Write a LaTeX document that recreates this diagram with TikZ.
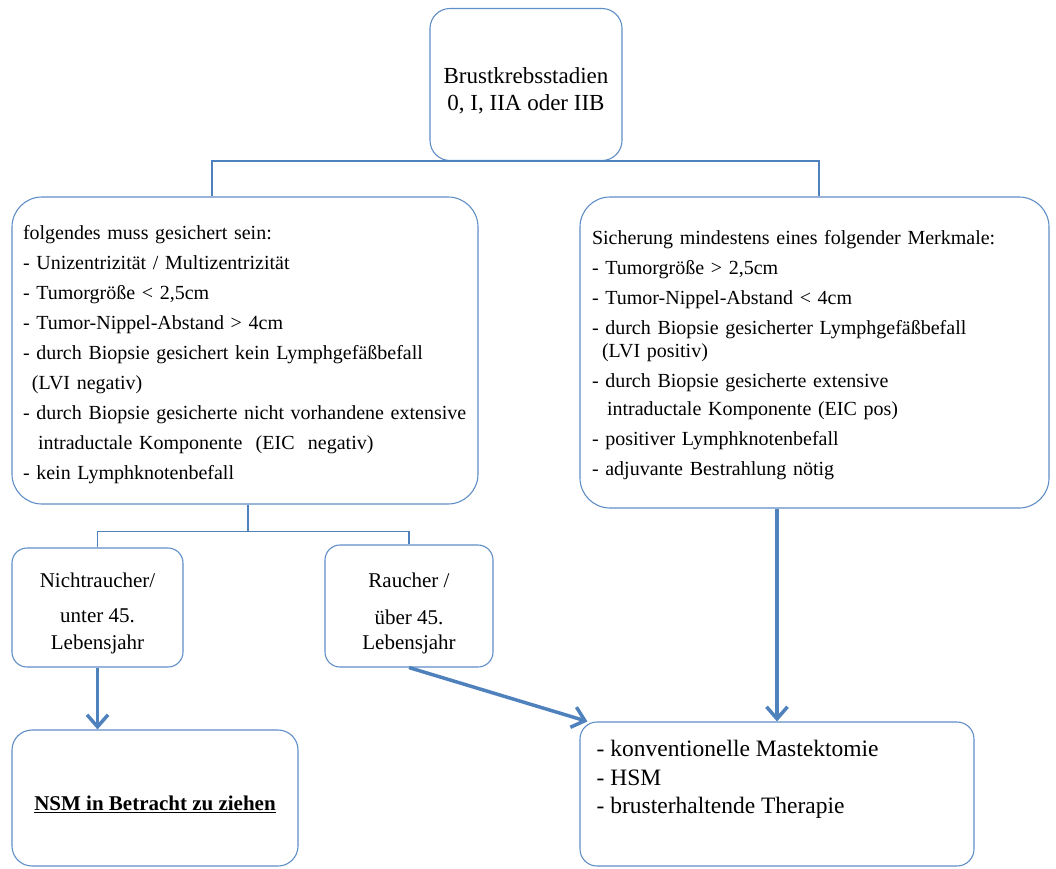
\documentclass[tikz,border=0pt]{standalone}
\usepackage{fontspec}
\setmainfont{Liberation Serif}
\usetikzlibrary{arrows.meta,positioning}
\definecolor{blaulinie}{RGB}{79,129,189}
\definecolor{blaurahmen}{RGB}{96,142,198}
\tikzset{
    box/.style={draw=blaurahmen, line width=1.1pt, rounded corners=#1, inner sep=0pt},
    box/.default=15pt,
    conn/.style={draw=blaulinie, line width=1.4pt},
    pfeil/.style={draw=blaulinie, line width=3.5pt, -{Straight Barb[length=12pt,width=21pt]}},
}
\begin{document}
\begin{tikzpicture}[x=1pt, y=-1pt]
    \useasboundingbox (0,0) rectangle (1056,868);
    \node[box=20pt, minimum width=192pt, minimum height=152pt, align=center, font=\fontsize{23}{27}\selectfont] (stadien) at (526,84.5) {\rule{0pt}{28pt}Brustkrebsstadien\\0, I, IIA oder IIB};
    \node[box=30pt, minimum width=466pt, minimum height=307pt, inner xsep=11pt, text width=444pt, align=left, font=\fontsize{20}{30}\selectfont] (sicher) at (245,350.5) {\rule{0pt}{22pt}folgendes muss gesichert sein:\\
        - Unizentrizität / Multizentrizität\\
        - Tumorgröße < 2,5cm\\
        - Tumor-Nippel-Abstand > 4cm\\
        - durch Biopsie gesichert kein Lymphgefäßbefall\\
        \hspace*{9pt}(LVI negativ)\\
        - durch Biopsie gesicherte nicht vorhandene extensive\\
        \hspace*{15pt}intraductale Komponente~~(EIC~~negativ)\\
        - kein Lymphknotenbefall};
    \node[box=30pt, minimum width=469pt, minimum height=311pt, inner xsep=12pt, text width=445pt, align=left, font=\fontsize{20}{30}\selectfont] (kriterien) at (814.5,352.5) {\rule{0pt}{20pt}Sicherung mindestens eines folgender Merkmale:\\
        - Tumorgröße > 2,5cm\\
        - Tumor-Nippel-Abstand < 4cm\\
        - durch Biopsie gesicherter Lymphgefäßbefall\\[-7pt]
        \hspace*{10pt}(LVI positiv)\\
        - durch Biopsie gesicherte extensive\\[-2pt]
        \hspace*{15pt}intraductale Komponente (EIC pos)\\
        - positiver Lymphknotenbefall\\
        - adjuvante Bestrahlung nötig};
    \node[box, minimum width=171pt, minimum height=119pt, align=center, font=\fontsize{21}{31}\selectfont] (nicht) at (97.5,607.5) {\rule{0pt}{26pt}Nichtraucher/\\[4pt]unter 45.\\[-4pt]Lebensjahr};
    \node[box, minimum width=168pt, minimum height=122pt, align=center, font=\fontsize{21}{31}\selectfont] (raucher) at (409,606) {\rule{0pt}{30pt}Raucher /\\[6pt]über 45.\\[-6pt]Lebensjahr};
    \node[box=20pt, minimum width=286pt, minimum height=136pt, font=\fontsize{21}{25}\selectfont\bfseries] (nsm) at (155,798) {\rule{0pt}{27pt}\underline{NSM in Betracht zu ziehen}};
    \node[box=17pt, minimum width=394pt, minimum height=144pt] (therapie) at (777,794) {};
    \node[anchor=north west, inner sep=0pt, align=left, font=\fontsize{23.5}{28.5}\selectfont] (optionen) at ([shift={(17,19)}]therapie.north west) {- konventionelle Mastektomie\\- HSM\\- brusterhaltende Therapie};
    % Verbindungen
    \draw[conn] ([xshift=-33pt]sicher.north) |- (stadien.south) -| ([xshift=4.5pt]kriterien.north);
    \draw[conn] ([xshift=3pt]sicher.south) -- ++(0,27) coordinate (gabel);
    \draw[conn] (nicht.north) |- (gabel) -| (raucher.north);
    \draw[pfeil] (nicht.south) -- (nicht.south |- nsm.north);
    \draw[pfeil] (raucher.south) -- ([xshift=8pt]therapie.north west);
    \draw[pfeil] (therapie.north |- kriterien.south) -- (therapie.north);
\end{tikzpicture}
\end{document}
